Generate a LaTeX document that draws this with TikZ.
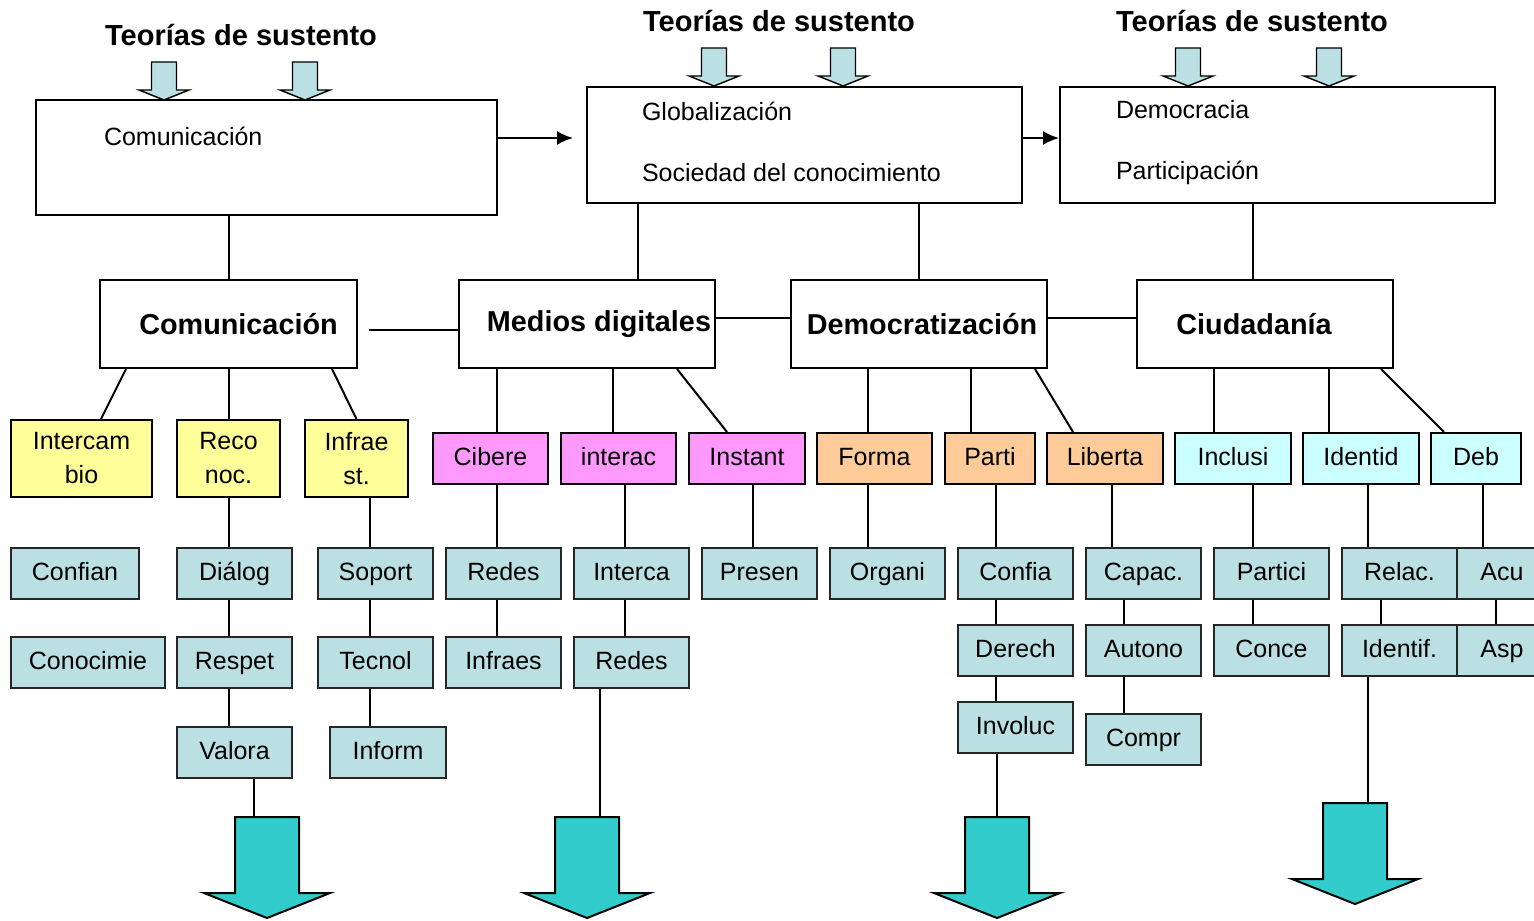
\documentclass[tikz,border=0pt]{standalone}
\usepackage{fontspec}
\setmainfont{Liberation Sans}
\usetikzlibrary{arrows.meta}
\definecolor{subblue}{RGB}{187,224,227}
\definecolor{yel}{RGB}{255,255,153}
\definecolor{pnk}{RGB}{255,153,255}
\definecolor{org}{RGB}{255,204,153}
\definecolor{cyn}{RGB}{204,255,255}
\definecolor{bigarrow}{RGB}{51,204,204}
\tikzset{
  theory/.style={font=\fontsize{14.5}{17}\selectfont\bfseries, anchor=base, inner sep=0pt},
  topbox/.style={draw, line width=1pt, inner sep=0pt},
  inbox/.style={anchor=base west, inner sep=0pt},
  mainbox/.style={draw, line width=1pt, inner sep=0pt, minimum width=128pt, minimum height=44pt, font=\fontsize{14.4}{17}\selectfont\bfseries},
  kbox/.style={draw, line width=1pt, inner sep=0pt, minimum width=57.5pt, minimum height=25.5pt, align=center},
  cbox/.style={kbox, text height=9.3pt, text depth=2.6pt},
  sub/.style={cbox, fill=subblue, draw=black!85},
  tip/.style={-{Latex[length=8pt,width=7pt]}},
}
\begin{document}
\begin{tikzpicture}[x=0.5pt,y=-0.5pt,line width=1pt,font=\fontsize{12.5}{17}\selectfont]
    \path[use as bounding box] (0,0) rectangle (1534,920);
    \clip (0,0) rectangle (1534,920);
    \node[theory] (th1) at (241,46) {Teorías de sustento};
    \node[theory] (th2) at (779,32) {Teorías de sustento};
    \node[theory] (th3) at (1252,32) {Teorías de sustento};
    \foreach \ax/\ay in {164/62,305/62,714/48,843/48,1188/48,1329/48}
        \draw[fill=subblue,line width=0.7pt] (\ax-12.5,\ay) -- (\ax+12.5,\ay) -- (\ax+12.5,\ay+28) -- (\ax+25,\ay+28)
            -- (\ax,\ay+38) -- (\ax-25,\ay+28) -- (\ax-12.5,\ay+28) -- cycle;
    \node[topbox, minimum width=230.5pt, minimum height=57.5pt] (comA) at (266.5,157.5) {};
    \node[topbox, minimum width=217.5pt, minimum height=58pt] (glob) at (804.5,145) {};
    \node[topbox, minimum width=217.5pt, minimum height=58pt] (demo) at (1277.5,145) {};
    \node[inbox] (comAtxt) at (103,145) {Comunicación};
    \node[inbox] (globtxt) at (641,120) {Globalización};
    \node[inbox] (soctxt) at (641,181) {Sociedad del conocimiento};
    \node[inbox] (demtxt) at (1115,119) {Democracia};
    \node[inbox] (parttxt) at (1115,179) {Participación};
    \draw[tip, shorten >=6.5pt] ([yshift=9.75pt]comA.east) -- ([yshift=9.75pt]comA.east -| glob.west);
    \draw[tip] ([yshift=3.5pt]glob.east) -- ([yshift=3.5pt]demo.west);

    \node[mainbox, minimum width=128.5pt] (com) at (228.5,324) {\hspace*{10pt}Comunicación};
    \node[mainbox] (med) at (587,324) {\hspace*{12pt}Medios digitales};
    \node[mainbox] (dmz) at (919,324) {\hspace*{3pt}Democratización};
    \node[mainbox] (ciu) at (1265,324) {Ciudadanía\hspace*{11pt}};
    \draw (com.north) -- (com.north |- comA.south);
    \draw ([xshift=25.5pt]med.north) -- ([xshift=25.5pt]med.north |- glob.south);
    \draw (dmz.north) -- (dmz.north |- glob.south);
    \draw ([xshift=-6pt]ciu.north) -- ([xshift=-6pt]ciu.north |- demo.south);
    \coordinate (gap) at (369,330);
    \draw (gap) -- (gap -| med.west);
    \draw ([yshift=3pt]med.east) -- ([yshift=3pt]dmz.west);
    \draw ([yshift=3pt]dmz.east) -- ([yshift=3pt]ciu.west);

    \node[kbox, fill=yel, minimum width=70.5pt, minimum height=38.5pt] (inter) at (81.5,458.5) {Intercam\\bio};
    \node[kbox, fill=yel, minimum width=51.5pt, minimum height=38.5pt] (reco) at (228.5,458.5) {Reco\\noc.};
    \node[kbox, fill=yel, minimum width=51.5pt, minimum height=38.5pt] (infra) at (356.5,458.5) {Infrae\\st.};
    \node[cbox, fill=pnk] (cibere) at (490.5,458.5) {Cibere};
    \node[cbox, fill=pnk] (interac) at (618.5,458.5) {interac};
    \node[cbox, fill=pnk, minimum width=58pt] (instant) at (747,458.5) {Instant};
    \node[cbox, fill=org] (forma) at (874.5,458.5) {Forma};
    \node[cbox, fill=org, minimum width=45pt] (parti) at (990,458.5) {Parti};
    \node[cbox, fill=org, minimum width=58pt] (liberta) at (1105,458.5) {Liberta};
    \node[cbox, fill=cyn, minimum width=58pt] (inclusi) at (1233,458.5) {Inclusi};
    \node[cbox, fill=cyn, minimum width=58pt] (identid) at (1361,458.5) {Identid};
    \node[cbox, fill=cyn, minimum width=45pt] (deb) at (1476,458.5) {Deb};
    \draw ([xshift=-51.25pt]com.south) -- ([xshift=9.75pt]inter.north);
    \draw (com.south) -- (reco.north);
    \draw ([xshift=51.75pt]com.south) -- (infra.north);
    \draw ([xshift=-45pt]med.south) -- ([xshift=-45pt]med.south |- cibere.north);
    \draw ([xshift=13pt]med.south) -- ([xshift=13pt]med.south |- interac.north);
    \draw ([xshift=45pt]med.south) -- ([xshift=-10pt]instant.north);
    \draw ([xshift=-25.5pt]dmz.south) -- ([xshift=-25.5pt]dmz.south |- forma.north);
    \draw ([xshift=26pt]dmz.south) -- ([xshift=26pt]dmz.south |- parti.north);
    \draw ([xshift=58pt]dmz.south) -- ([xshift=-16pt]liberta.north);
    \draw ([xshift=-25.5pt]ciu.south) -- ([xshift=-25.5pt]ciu.south |- inclusi.north);
    \draw ([xshift=32pt]ciu.south) -- ([xshift=32pt]ciu.south |- identid.north);
    \draw ([xshift=58pt]ciu.south) -- ([xshift=-16pt]deb.north);

    \node[sub, minimum width=64pt] (confian) at (75,573.5) {Confian};
    \node[sub] (dialog) at (234.5,573.5) {Diálog};
    \node[sub] (soport) at (375.5,573.5) {Soport};
    \node[sub] (redesA) at (503.5,573.5) {Redes};
    \node[sub] (interca) at (631.5,573.5) {Interca};
    \node[sub] (presen) at (759.5,573.5) {Presen};
    \node[sub] (organi) at (887.5,573.5) {Organi};
    \node[sub] (confia) at (1015.5,573.5) {Confia};
    \node[sub] (capac) at (1143.5,573.5) {Capac.};
    \node[sub] (partici) at (1271.5,573.5) {Partici};
    \node[sub] (relac) at (1399.5,573.5) {Relac.};
    \node[sub, minimum width=45pt] (acu) at (1502,573.5) {Acu};
    \node[sub, minimum width=77pt] (conoc) at (88,662.5) {Conocimie};
    \node[sub] (respet) at (234.5,662.5) {Respet};
    \node[sub] (tecnol) at (375.5,662.5) {Tecnol};
    \node[sub] (infraes) at (503.5,662.5) {Infraes};
    \node[sub] (redesB) at (631.5,662.5) {Redes};
    \node[sub] (derech) at (1015.5,650.5) {Derech};
    \node[sub] (autono) at (1143.5,650.5) {Autono};
    \node[sub] (conce) at (1271.5,650.5) {Conce};
    \node[sub] (identif) at (1399.5,650.5) {Identif.};
    \node[sub, minimum width=45pt] (asp) at (1502,650.5) {Asp};
    \node[sub] (valora) at (234.5,752.5) {Valora};
    \node[sub, minimum width=58pt] (inform) at (388,752.5) {Inform};
    \node[sub] (involuc) at (1015.5,727.5) {Involuc};
    \node[sub] (compr) at (1143.5,739.5) {Compr};

    \foreach \bx/\by/\nm in {267/817/arA,587/817/arB,997/817/arC,1355/803/arD}{
        \draw[fill=bigarrow] (\bx-32,\by) -- (\bx+32,\by) -- (\bx+32,\by+76) -- (\bx+63,\by+76)
            -- (\bx,\by+101) -- (\bx-63,\by+76) -- (\bx-32,\by+76) -- cycle;
        \coordinate (\nm) at (\bx,\by);
    }

    \draw (reco.south) -- (reco.south |- dialog.north);
    \draw ([xshift=-3pt]dialog.south) -- ([xshift=-3pt]respet.north);
    \draw ([xshift=-3pt]respet.south) -- ([xshift=-3pt]valora.north);
    \draw ([xshift=9.75pt]valora.south) -- ([xshift=9.75pt]valora.south |- arA);
    \draw ([xshift=6.75pt]infra.south) -- ([xshift=6.75pt]infra.south |- soport.north);
    \draw ([xshift=-2.75pt]soport.south) -- ([xshift=-2.75pt]tecnol.north);
    \draw ([xshift=-2.75pt]tecnol.south) -- ([xshift=-2.75pt]tecnol.south |- inform.north);
    \draw ([xshift=3.25pt]cibere.south) -- ([xshift=3.25pt]cibere.south |- redesA.north);
    \draw ([xshift=-3.25pt]redesA.south) -- ([xshift=-3.25pt]infraes.north);
    \draw ([xshift=3.25pt]interac.south) -- ([xshift=3.25pt]interac.south |- interca.north);
    \draw ([xshift=-3.25pt]interca.south) -- ([xshift=-3.25pt]redesB.north);
    \draw ([xshift=-15.75pt]redesB.south) -- ([xshift=-15.75pt]redesB.south |- arB);
    \draw ([xshift=3pt]instant.south) -- ([xshift=3pt]instant.south |- presen.north);
    \draw ([xshift=-3.25pt]forma.south) -- ([xshift=-3.25pt]forma.south |- organi.north);
    \draw ([xshift=3pt]parti.south) -- ([xshift=3pt]parti.south |- confia.north);
    \draw ([xshift=-9.75pt]confia.south) -- ([xshift=-9.75pt]derech.north);
    \draw ([xshift=-9.75pt]derech.south) -- ([xshift=-9.75pt]involuc.north);
    \draw ([xshift=-9.25pt]involuc.south) -- ([xshift=-9.25pt]involuc.south |- arC);
    \draw ([xshift=3.5pt]liberta.south) -- ([xshift=3.5pt]liberta.south |- capac.north);
    \draw ([xshift=-9.75pt]capac.south) -- ([xshift=-9.75pt]autono.north);
    \draw ([xshift=-9.75pt]autono.south) -- ([xshift=-9.75pt]compr.north);
    \draw ([xshift=10pt]inclusi.south) -- ([xshift=10pt]inclusi.south |- partici.north);
    \draw ([xshift=-9.25pt]partici.south) -- ([xshift=-9.25pt]conce.north);
    \draw ([xshift=3.5pt]identid.south) -- ([xshift=3.5pt]identid.south |- relac.north);
    \draw ([xshift=-9.25pt]relac.south) -- ([xshift=-9.25pt]identif.north);
    \draw ([xshift=-15.75pt]identif.south) -- ([xshift=-15.75pt]identif.south |- arD);
    \draw ([xshift=3.5pt]deb.south) -- ([xshift=3.5pt]deb.south |- acu.north);
    \draw ([xshift=-3pt]acu.south) -- ([xshift=-3pt]asp.north);
\end{tikzpicture}
\end{document}
